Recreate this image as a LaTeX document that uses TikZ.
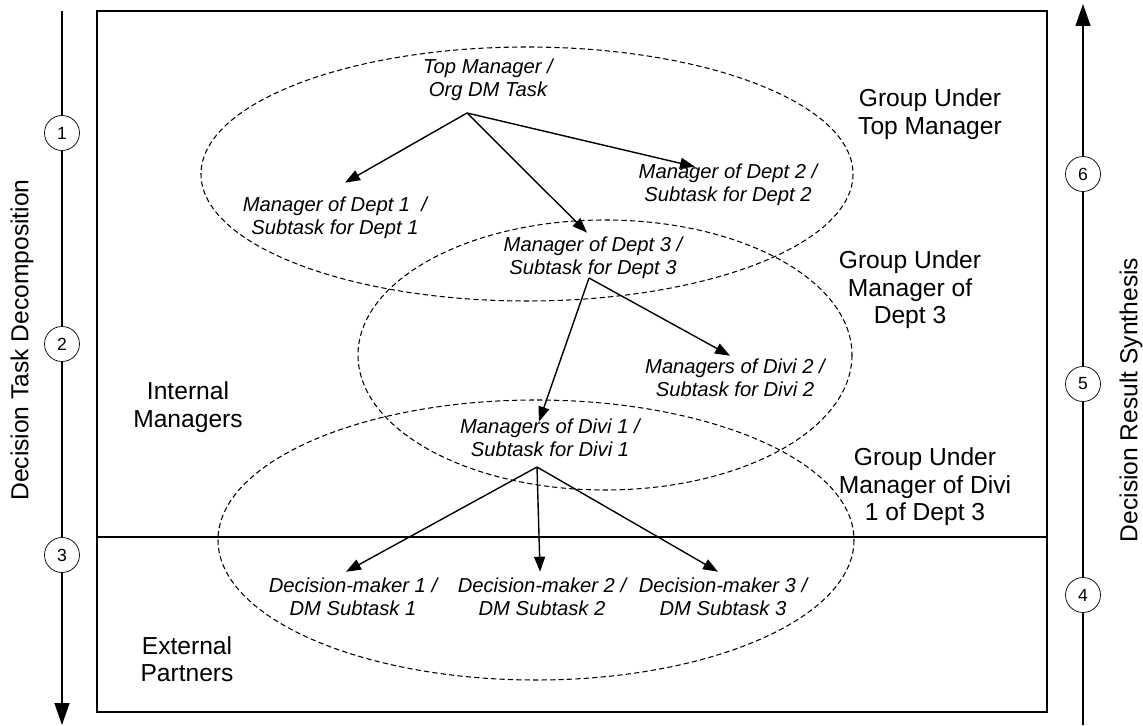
\documentclass[tikz,border=0pt]{standalone}
\usepackage{fontspec}
\setmainfont{Liberation Sans}
\usetikzlibrary{arrows.meta}

\begin{document}
\begin{tikzpicture}[
  x=0.02cm, y=-0.02cm,
  task/.style={font=\fontsize{11.5}{13.1}\selectfont\itshape, align=center, inner sep=0pt},
  group/.style={font=\fontsize{14}{15.6}\selectfont, align=center, inner sep=0pt},
  stage/.style={draw, circle, fill=white, minimum size=0.7cm, inner sep=0pt,
    font=\fontsize{10}{12}\selectfont},
  region/.style={draw, line width=0.6pt, dash pattern=on 3pt off 1.8pt},
  conn/.style={-{Triangle[length=0.3cm, width=0.22cm]}, line width=0.8pt},
  flow/.style={-{Triangle[length=0.44cm, width=0.3cm]}, line width=0.8pt}
]
\useasboundingbox (0,0) rectangle (1143,726);

% Frame
\draw[line width=1pt] (97,11) rectangle (1047,712);
\draw[line width=1pt] (97,537) -- (1047,537);

% Groups
\draw[region] (527,174) ellipse [x radius=326, y radius=127];
\draw[region] (605,355) ellipse [x radius=247, y radius=135];
\draw[region] (536,540) ellipse [x radius=318, y radius=140];

% Tasks
\node[task] (top) at (488,80) {Top Manager /\\Org DM Task};
\node[task] (dept1) at (335,218) {Manager of Dept 1 \ /\\Subtask for Dept 1};
\node[task] (dept2) at (728,185) {Manager of Dept 2 /\\Subtask for Dept 2};
\node[task] (dept3) at (593,258) {Manager of Dept 3 /\\Subtask for Dept 3};
\node[task] (divi2) at (735,378) {Managers of Divi 2 /\\Subtask for Divi 2};
\node[task] (divi1) at (550,438) {Managers of Divi 1 /\\Subtask for Divi 1};
\node[task] (dm1) at (353,597) {Decision-maker 1 /\\DM Subtask 1};
\node[task] (dm2) at (542,597) {Decision-maker 2 /\\DM Subtask 2};
\node[task] (dm3) at (723,597) {Decision-maker 3 /\\DM Subtask 3};

\coordinate (topout) at (467,113);
\coordinate (dept3out) at (589,278);
\coordinate (divi1out) at (537,467);

% Arrows
\draw[conn] (topout) -- ([xshift=5.7pt, yshift=8pt]dept1.north);
\draw[conn] (topout) -- ([xshift=-18.8pt, yshift=-1.7pt]dept2.north);
\draw[conn] (topout) -- ([xshift=-3.4pt, yshift=2.3pt]dept3.north);
\draw[conn] (dept3out) -- ([xshift=-2.8pt, yshift=1.7pt]divi2.north);
\draw[conn] (dept3out) -- ([xshift=-6.3pt, yshift=-1.7pt]divi1.north);
\draw[conn] (divi1out) -- ([xshift=-4pt, yshift=3.4pt]dm1.north);
\draw[conn] (divi1out) -- ([xshift=-1.1pt, yshift=3.4pt]dm2.north);
\draw[conn] (divi1out) -- ([xshift=-2.8pt, yshift=3.4pt]dm3.north);

% Group labels
\node[group] (gtop) at (930,114) {Group Under\\Top Manager};
\node[group] (gdept3) at (910,290) {Group Under\\Manager of\\Dept 3};
\node[group] (gdivi1) at (925,487) {Group Under\\Manager of Divi\\1 of Dept 3};
\node[group] (internal) at (188,407) {Internal\\Managers};
\node[group] (external) at (187,659) {External\\Partners};

% Side axes
\coordinate (ltop) at (62,11);
\coordinate (lend) at (62,725);
\coordinate (rstart) at (1083,725);
\coordinate (rend) at (1083,4);
\draw[flow] (ltop) -- (lend);
\draw[flow] (rstart) -- (rend);

\node[stage] (s1) at (62,133) {1};
\node[stage] (s2) at (62,344) {2};
\node[stage] (s3) at (62,555) {3};
\node[stage] (s4) at (1083,595) {4};
\node[stage] (s5) at (1083,384) {5};
\node[stage] (s6) at (1083,174) {6};

\node[group, rotate=90] (decomp) at (22,340) {Decision Task Decomposition};
\node[group, rotate=90] (synth) at (1131,400) {Decision Result Synthesis};

\end{tikzpicture}
\end{document}
